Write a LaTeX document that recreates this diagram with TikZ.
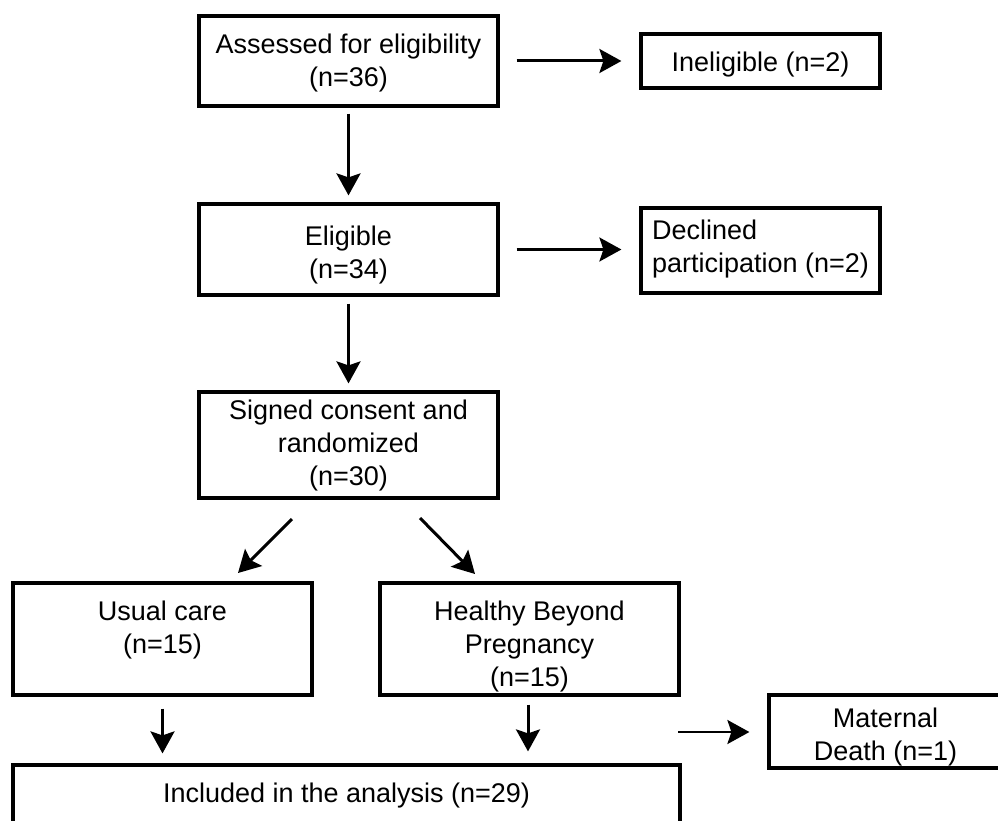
\documentclass[tikz,border=0pt]{standalone}
\usepackage{fontspec}
\setmainfont{Liberation Sans}
\usetikzlibrary{arrows.meta,calc}
\begin{document}
\begin{tikzpicture}[x=1pt,y=-1pt,
  box/.style={draw, line width=3.2pt, inner sep=0pt, align=center,
    font=\fontsize{27pt}{33pt}\selectfont},
  arr/.style={line width=3pt, -{Stealth[length=22pt,width=24pt,inset=4pt]}},
  thinarr/.style={line width=2.4pt, -{Stealth[length=22pt,width=24pt,inset=4pt]}}
]
\useasboundingbox (0,0) rectangle (998,821);

\node[box, minimum width=299pt, minimum height=90pt, text height=58pt, text depth=6pt] (assess) at (348.5,61) {Assessed for eligibility\\(n=36)};
\node[box, minimum width=239pt, minimum height=54pt, text height=26pt, text depth=4pt] (inel) at (760.5,61) {Ineligible (n=2)};
\node[box, minimum width=299pt, minimum height=91pt, text height=63pt, text depth=6pt] (elig) at (348.5,249.5) {Eligible\\(n=34)};
\node[box, align=left, minimum width=239pt, minimum height=85pt, text height=49pt, text depth=6pt] (decl) at (760.5,250.5) {Declined\\participation (n=2)};
\node[box, minimum width=299pt, minimum height=106pt, text height=86pt, text depth=6pt] (signed) at (348.5,445) {Signed consent and\\randomized\\(n=30)};
\node[box, minimum width=299pt, minimum height=112pt, text height=34pt, text depth=6pt] (usual) at (162.5,639) {Usual care\\(n=15)};
\node[box, minimum width=299pt, minimum height=112pt, text height=100pt, text depth=6pt] (hbp) at (529.5,639) {Healthy Beyond\\Pregnancy\\(n=15)};
\node[box, minimum width=233pt, minimum height=73pt, text height=63pt, text depth=6pt] (death) at (885.5,731.5) {Maternal\\Death (n=1)};
\node[box, minimum width=667pt, minimum height=74pt, text height=20pt, text depth=20pt] (incl) at (346.5,802) {Included in the analysis (n=29)};

\coordinate (d1s) at (292,519);
\coordinate (d1e) at (238,573);
\coordinate (d2s) at (420,518);
\coordinate (d2e) at (475,574);
\coordinate (ra) at (678,732);

\draw[arr, shorten <=17pt, shorten >=18pt] (assess) -- (inel);
\draw[arr, shorten <=6pt, shorten >=7pt] (assess.south) -- (elig.north);
\draw[thinarr, shorten <=17pt, shorten >=18pt] (elig.east) -- (elig.east -| decl.west);
\draw[arr, shorten <=7pt, shorten >=7pt] (elig.south) -- (signed.north);
\draw[arr] (d1s) -- (d1e);
\draw[arr] (d2s) -- (d2e);
\draw[arr, shorten <=12pt, shorten >=10pt] (usual.south) -- (usual.south |- incl.north);
\draw[arr, shorten <=8pt, shorten >=12pt] ([xshift=-1.5pt]hbp.south) -- ([xshift=-1.5pt]hbp.south |- incl.north);
\draw[thinarr, shorten >=18pt] (ra) -- (ra -| death.west);
\end{tikzpicture}
\end{document}
